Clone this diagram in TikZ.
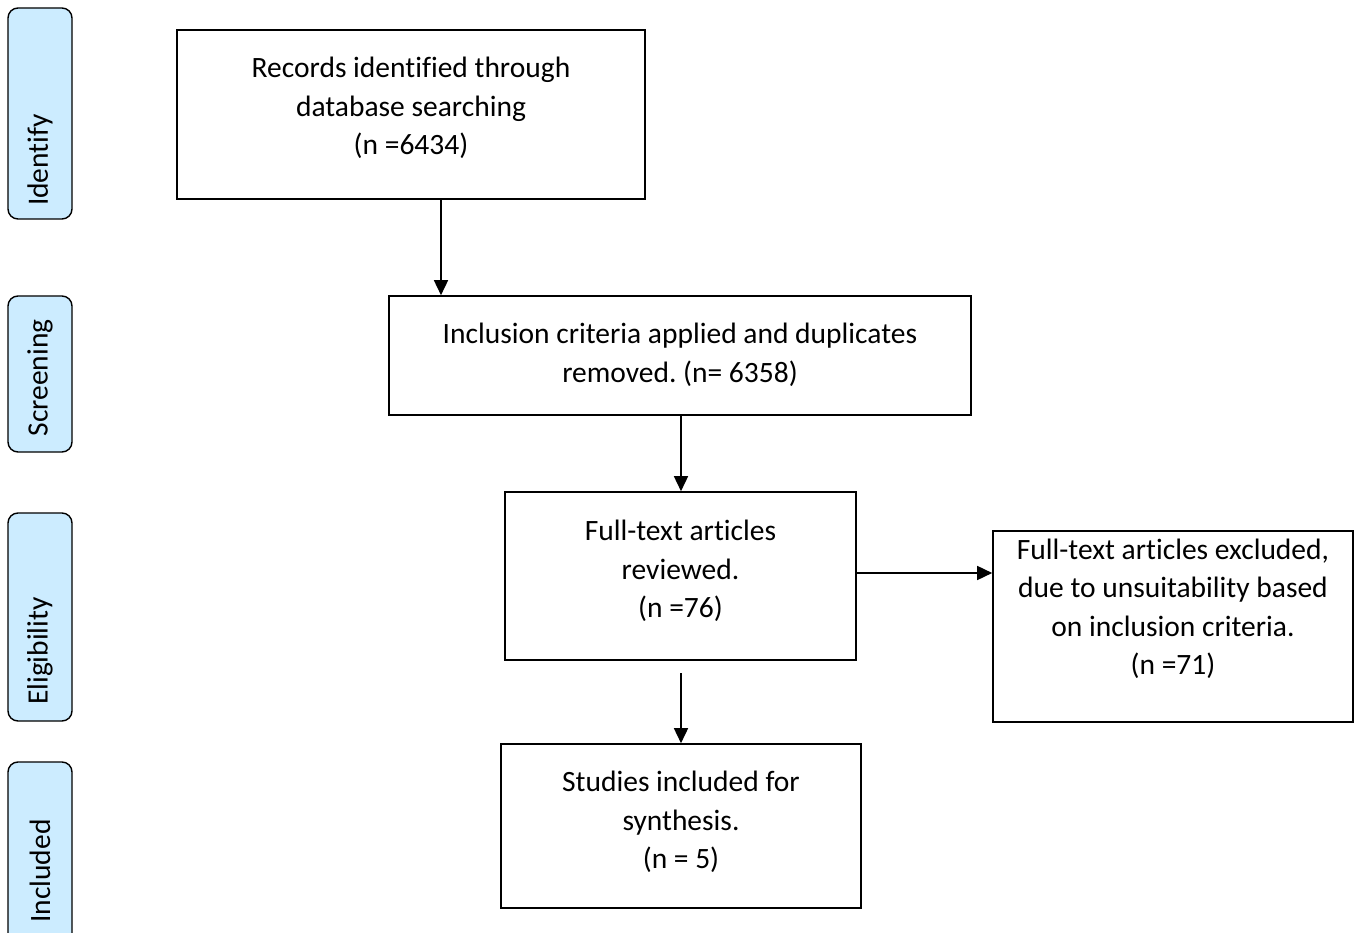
\documentclass[tikz,border=0pt]{standalone}
\usepackage{fontspec}
\setmainfont{Carlito}[Ligatures={NoCommon}]
\usetikzlibrary{arrows.meta}
\definecolor{sidefill}{HTML}{CCECFF}
\frenchspacing
\tikzset{
  box/.style={draw=black, line width=1.6pt, rectangle, inner sep=0pt},
  side/.style={draw=black, line width=1.4pt, fill=sidefill, rounded corners=10pt, minimum width=64pt, inner sep=0pt},
  sidetext/.style={rotate=90, font=\fontsize{29.5}{34}\selectfont, inner sep=0pt},
  txt/.style={align=center, font=\fontsize{29.5}{38.5}\selectfont, inner sep=0pt},
  arr/.style={line width=1.6pt, -{Triangle[length=15pt,width=14pt]}}
}
\begin{document}
\begin{tikzpicture}[x=1pt,y=-1pt]
\useasboundingbox (0,0) rectangle (1361,933);
% side labels
\node[side, minimum height=211pt] (s1) at (40,113.5) {};
\node[sidetext] (s1t) at (40,160) {Identify};
\node[side, minimum height=156pt] (s2) at (40,374) {};
\node[sidetext] (s2t) at (40,378) {Screening};
\node[side, minimum height=208pt] (s3) at (40,617) {};
\node[sidetext] (s3t) at (40,651) {Eligibility};
\node[side, minimum height=200pt] (s4) at (40,862) {};
\node[sidetext] (s4t) at (40,871) {Included};
% main boxes
\node[box, minimum width=468pt, minimum height=169pt] (b1) at (411,114.5) {};
\node[txt] (b1t) at (411,108) {Records identified through\\database searching\\(n =6434)};
\node[box, minimum width=582pt, minimum height=119pt] (b2) at (680,355.5) {};
\node[txt] (b2t) at (680,355) {Inclusion criteria applied and duplicates\\removed. (n= 6358)};
\node[box, minimum width=351pt, minimum height=168pt] (b3) at (680.5,576) {};
\node[txt] (b3t) at (680.5,571) {Full-text articles\\reviewed.\\(n =76)};
\node[box, minimum width=360pt, minimum height=191pt] (b4) at (1173,626.5) {};
\node[txt] (b4t) at (1173,609) {Full-text articles excluded,\\due to unsuitability based\\on inclusion criteria.\\(n =71)};
\node[box, minimum width=360pt, minimum height=164pt] (b5) at (681,826) {};
\node[txt] (b5t) at (681,822) {Studies included for\\synthesis.\\(n = 5)};
% arrows
\draw[arr] (b1.south -| 441,0) -- (b2.north -| 441,0);
\draw[arr] (b2.south -| 681,0) -- (b3.north -| 681,0);
\draw[arr] (b3.east |- 0,573) -- (b4.west |- 0,573);
\coordinate (a4s) at (681,673);
\draw[arr] (a4s) -- (b5.north -| a4s);
\end{tikzpicture}
\end{document}
